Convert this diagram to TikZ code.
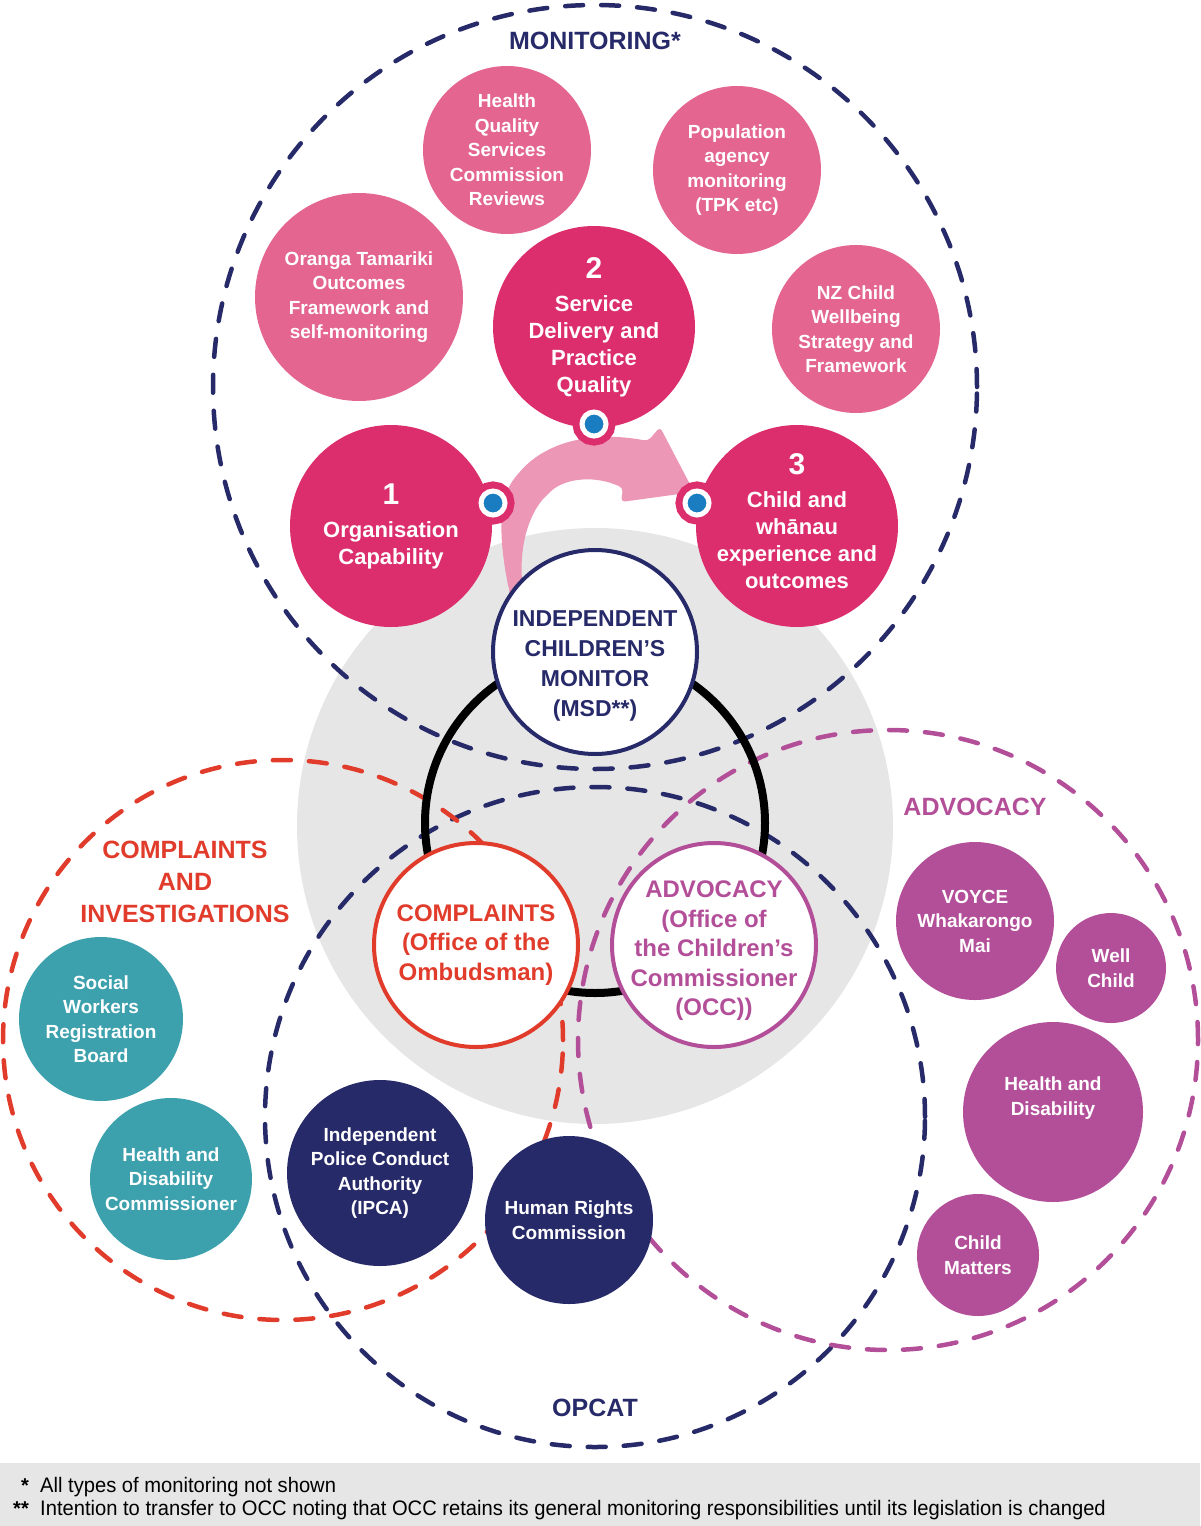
\documentclass[tikz,border=0pt]{standalone}
\usepackage{fontspec}
\setmainfont{Liberation Sans}
\newfontfamily\footfont[FakeStretch=0.96]{Liberation Sans}
\definecolor{navy}{HTML}{272A69}
\definecolor{dpink}{HTML}{DC2E6C}
\definecolor{lpink}{HTML}{E36590}
\definecolor{apink}{HTML}{EC97B5}
\definecolor{dotblue}{HTML}{1A7DC1}
\definecolor{cred}{HTML}{E13C2B}
\definecolor{cpurple}{HTML}{B34F99}
\definecolor{cteal}{HTML}{3CA1AD}
\definecolor{lgrey}{HTML}{E6E6E6}
\newcommand\fntS{\fontsize{19}{24.5}\selectfont\bfseries}
\newcommand\fntM{\fontsize{22}{27}\selectfont\bfseries}
\newcommand\fntN{\fontsize{30}{30}\selectfont\bfseries}
\newcommand\fntI{\fontsize{23}{29.7}\selectfont\bfseries}
\newcommand\fntC{\fontsize{24}{29.5}\selectfont\bfseries}
\newcommand\fntL{\fontsize{25}{32}\selectfont\bfseries}
\newcommand\fntF{\footfont\fontsize{21}{21}\selectfont}
\begin{document}
\begin{tikzpicture}[x=1pt,y=-1pt,
  disc/.style={circle, inner sep=0pt, outer sep=0pt, align=center, text=white},
  lp/.style={disc, fill=lpink, font=\fntS},
  dp/.style={disc, fill=dpink, font=\fntM, minimum size=202pt},
  pu/.style={disc, fill=cpurple, font=\fntS},
  te/.style={disc, fill=cteal, font=\fntS},
  nv/.style={disc, fill=navy, font=\fntS},
  hub/.style={circle, inner sep=0pt, fill=white, line width=4pt, minimum size=204pt, align=center},
  ringd/.style={circle, inner sep=0pt, line width=4.5pt, dash pattern=on 18pt off 18pt, line cap=round},
  dotm/.style={circle, inner sep=0pt, minimum size=24pt, fill=dotblue, draw=white, line width=5pt,
     preaction={draw=dpink, line width=19pt}},
  lab/.style={font=\fntL, align=center},
  intext/.style={inner sep=0pt, align=center}
]
\useasboundingbox (0,0) rectangle (1200,1526);
% footer band
\fill[lgrey] (0,1463) rectangle (1200,1526);
% grey disc
\node[circle, fill=lgrey, minimum size=596pt, inner sep=0pt] (greydisc) at (595,826) {};
% dashed group circles
\node[ringd, draw=navy, minimum size=764pt] (monring) at (595,387) {};
\node[ringd, draw=navy, minimum size=660pt] (opcatring) at (595,1117) {};
\node[ringd, draw=cred, minimum size=560pt] (compring) at (283,1040) {};
\node[ringd, draw=cpurple, minimum size=620pt] (advring) at (888,1040) {};
% black ring
\node[circle, draw=black, line width=8pt, minimum size=340pt, inner sep=0pt] (blackring) at (595,823) {};
% curved arrow
\fill[apink, rounded corners=4pt] (509,590) .. controls (500,545) and (496,500) .. (518,474)
  .. controls (545,443) and (590,430) .. (648,441) -- (660,427) -- (694,492) -- (621,502) -- (623,488)
  .. controls (595,475) and (565,478) .. (548,494) .. controls (530,512) and (518,545) .. (523,590)
  .. controls (522,598) and (510,598) .. cycle;
% monitoring bodies
\node[lp, minimum size=168pt] (hqsc) at (507,150) {Health\\Quality\\Services\\Commission\\Reviews};
\node[lp, minimum size=168pt] (pop) at (737,170) {Population\\agency\\monitoring\\(TPK etc)};
\node[lp, minimum size=208pt] (ot) at (359,297) {Oranga Tamariki\\Outcomes\\Framework and\\self-monitoring};
\node[lp, minimum size=168pt] (nzc) at (856,329) {NZ Child\\Wellbeing\\Strategy and\\Framework};
\node[dp] (two) at (594,327) {{\fntN 2}\\[6pt]Service\\Delivery and\\Practice\\Quality};
\node[dp] (one) at (391,526) {{\fntN 1}\\[6pt]Organisation\\Capability};
\node[dp] (three) at (797,526) {};
\node[intext, font=\fntM, text=white] (threetext) at (797,521) {{\fntN 3}\\[6pt]Child and\\whānau\\experience and\\outcomes};
% dots
\node[dotm] (dot2) at (594,424) {};
\node[dotm] (dot1) at (493,503) {};
\node[dotm] (dot3) at (697,503) {};
% hub circles
\node[hub, draw=navy] (icm) at (595,652) {};
\node[intext, font=\fntI, text=navy] (icmtext) at (595,666) {INDEPENDENT\\CHILDREN’S\\MONITOR\\(MSD**)};
\node[hub, draw=cred, text=cred, font=\fntC] (occomb) at (476,945) {COMPLAINTS\\(Office of the\\Ombudsman)};
\node[hub, draw=cpurple] (occ) at (714,945) {};
\node[intext, font=\fntC, text=cpurple] (occtext) at (714,951) {ADVOCACY\\(Office of\\the Children’s\\Commissioner\\(OCC))};
% advocacy bodies
\node[pu, minimum size=158pt] (voyce) at (975,921) {VOYCE\\Whakarongo\\Mai};
\node[pu, minimum size=110pt] (well) at (1111,968) {Well\\Child};
\node[pu, minimum size=180pt] (hd) at (1053,1112) {};
\node[intext, font=\fntS, text=white] (hdtext) at (1053,1098) {Health and\\Disability};
\node[pu, minimum size=122pt] (cm) at (978,1255) {Child\\Matters};
% complaints bodies
\node[te, minimum size=164pt] (swrb) at (101,1019) {Social\\Workers\\Registration\\Board};
\node[te, minimum size=162pt] (hdc) at (171,1179) {Health and\\Disability\\Commissioner};
% OPCAT bodies
\node[nv, minimum size=186pt] (ipca) at (380,1173) {Independent\\Police Conduct\\Authority\\(IPCA)};
\node[nv, minimum size=168pt] (hrc) at (569,1220) {Human Rights\\Commission};
% group labels
\node[lab, text=navy] (lmon) at (595,41) {MONITORING*};
\node[lab, text=cpurple] (ladv) at (975,807) {ADVOCACY};
\node[lab, text=cred] (lcomp) at (185,882) {COMPLAINTS\\AND\\INVESTIGATIONS};
\node[lab, text=navy] (lopcat) at (595,1408) {OPCAT};
% footnotes
\node[anchor=base east, inner sep=0pt, font=\fontsize{20}{20}\selectfont\bfseries] (st1) at (29,1492) {*};
\node[anchor=base west, inner sep=0pt, font=\fntF] (fn1) at (40,1492) {All types of monitoring not shown};
\node[anchor=base east, inner sep=0pt, font=\fontsize{20}{20}\selectfont\bfseries] (st2) at (29,1515) {**};
\node[anchor=base west, inner sep=0pt, font=\fntF] (fn2) at (40,1515) {Intention to transfer to OCC noting that OCC retains its general monitoring responsibilities until its legislation is changed};
\end{tikzpicture}
\end{document}
